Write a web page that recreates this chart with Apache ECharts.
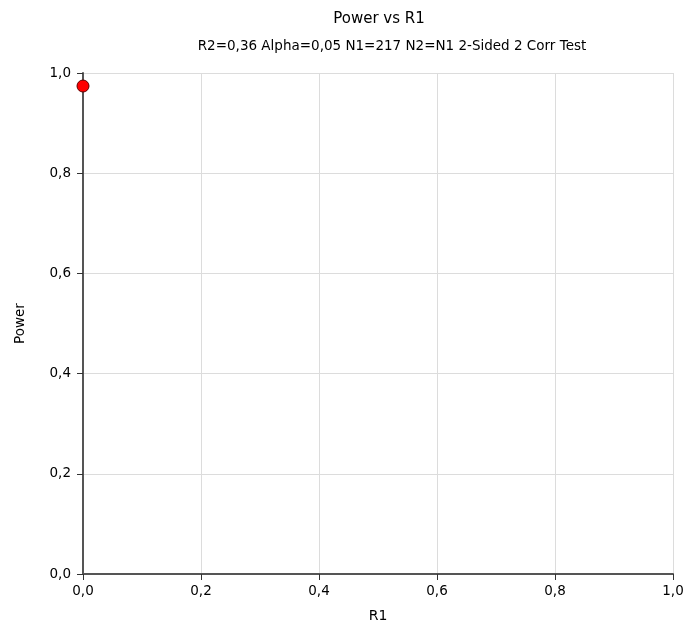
<!DOCTYPE html>
<html>
<head>
<meta charset="utf-8">
<script src="https://cdn.jsdelivr.net/npm/echarts@6/dist/echarts.min.js"></script>
<style>
  html, body { margin: 0; padding: 0; background: #fff; }
  #chart { width: 684px; height: 624px; }
</style>
</head>
<body>
<div id="chart"></div>
<script>
// Power of a two-correlation test as R1 varies
const r1Values = [0.0];
const powerValues = [0.974];
const xTicks = [0, 0.2, 0.4, 0.6, 0.8, 1.0];
const yTicks = [0, 0.2, 0.4, 0.6, 0.8, 1.0];

const fmt = v => v.toFixed(1).replace('.', ',');
const font = '"DejaVu Sans", Arial, sans-serif';

const chart = echarts.init(document.getElementById('chart'));
chart.setOption({
  animation: false,
  backgroundColor: '#ffffff',
  title: [
    {
      text: 'Power vs R1',
      left: 374, top: 7, textAlign: 'center',
      textStyle: { fontFamily: font, fontSize: 15, fontWeight: 'normal', color: '#000' }
    },
    {
      text: 'R2=0,36 Alpha=0,05 N1=217 N2=N1 2-Sided 2 Corr Test',
      left: 387, top: 34, textAlign: 'center',
      textStyle: { fontFamily: font, fontSize: 13.5, fontWeight: 'normal', color: '#000' }
    }
  ],
  grid: { left: 83, right: 11, top: 73, bottom: 50, outerBoundsMode: 'none' },
  xAxis: {
    type: 'value', min: xTicks[0], max: xTicks[xTicks.length - 1], interval: 0.2,
    name: 'R1', nameLocation: 'middle', nameGap: 35,
    nameTextStyle: { fontFamily: font, fontSize: 14, color: '#000' },
    axisLine: { show: true, onZero: false, lineStyle: { color: '#555', width: 2 } },
    axisTick: { show: true, length: 6, lineStyle: { color: '#333' } },
    axisLabel: { fontFamily: font, fontSize: 13.5, color: '#000', margin: 10,
      formatter: v => fmt(v) },
    splitLine: { show: true, lineStyle: { color: '#dcdcdc', width: 1 } }
  },
  yAxis: {
    type: 'value', min: yTicks[0], max: yTicks[yTicks.length - 1], interval: 0.2,
    name: 'Power', nameLocation: 'middle', nameGap: 56, nameRotate: 90,
    nameTextStyle: { fontFamily: font, fontSize: 13.5, color: '#000' },
    axisLine: { show: true, onZero: false, lineStyle: { color: '#555', width: 2 } },
    axisTick: { show: true, length: 6, lineStyle: { color: '#333' } },
    axisLabel: { fontFamily: font, fontSize: 13.5, color: '#000', margin: 12,
      formatter: v => fmt(v) },
    splitLine: { show: true, lineStyle: { color: '#dcdcdc', width: 1 } }
  },
  series: [{
    type: 'line',
    data: r1Values.map((x, i) => [x, powerValues[i]]),
    symbol: 'circle', symbolSize: 12,
    clip: false,
    lineStyle: { color: '#000', width: 1 },
    itemStyle: { color: '#ff0000', borderColor: '#600000', borderWidth: 1 }
  }]
});
</script>
</body>
</html>
